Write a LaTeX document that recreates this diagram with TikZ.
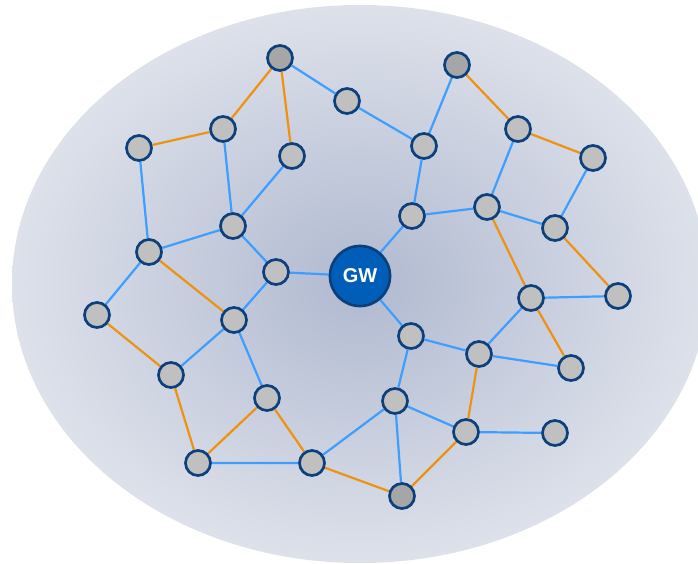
\documentclass[tikz,border=0pt]{standalone}
\usepackage{fontspec}
\setsansfont{Liberation Sans}
\pgfdeclarelayer{bg}
\pgfdeclarelayer{edges}
\pgfsetlayers{bg,edges,main}
\definecolor{nodeborder}{RGB}{12,64,124}
\definecolor{nodefill}{RGB}{192,192,192}
\definecolor{nodedark}{RGB}{166,166,166}
\definecolor{gwfill}{RGB}{0,94,184}
\definecolor{bluelink}{RGB}{61,158,255}
\definecolor{orangelink}{RGB}{238,146,17}
\definecolor{cloudin}{RGB}{176,185,208}
\definecolor{cloudout}{RGB}{221,225,234}
\tikzset{
  mnode/.style={circle,draw=nodeborder,fill=nodefill,line width=2.7pt,minimum size=25pt,inner sep=0pt},
  dnode/.style={mnode,fill=nodedark},
  gwnode/.style={circle,draw=nodeborder,fill=gwfill,line width=2.7pt,minimum size=60pt,inner sep=0pt,text=white,font=\sffamily\bfseries\fontsize{20}{22}\selectfont},
  bl/.style={draw=bluelink,line width=2.2pt},
  ol/.style={draw=orangelink,line width=2.2pt}
}
\begin{document}
\begin{tikzpicture}[x=1pt,y=-1pt]
\useasboundingbox (0,0) rectangle (698,564);
\begin{pgfonlayer}{bg}
\clip (0,0) rectangle (698,564);
\shade[inner color=cloudin,outer color=cloudout] (360,284) ellipse [x radius=348,y radius=279];
\end{pgfonlayer}
\node[dnode] (n1) at (280,58) {};
\node[mnode] (n2) at (347,101) {};
\node[mnode] (n3) at (223,129) {};
\node[mnode] (n4) at (139,148) {};
\node[mnode] (n5) at (292,156) {};
\node[mnode] (n6) at (424,146) {};
\node[dnode] (n7) at (457,65) {};
\node[mnode] (n8) at (518,129) {};
\node[mnode] (n9) at (593,158) {};
\node[mnode] (n10) at (487,207) {};
\node[mnode] (n11) at (412,216) {};
\node[mnode] (n12) at (555,228) {};
\node[mnode] (n13) at (233,226) {};
\node[mnode] (n14) at (149,252) {};
\node[mnode] (n15) at (276,272) {};
\node[gwnode] (gw) at (360,276) {GW};
\node[mnode] (n17) at (97,315) {};
\node[mnode] (n18) at (234,320) {};
\node[mnode] (n19) at (531,298) {};
\node[mnode] (n20) at (618,296) {};
\node[mnode] (n21) at (411,336) {};
\node[mnode] (n22) at (479,354) {};
\node[mnode] (n23) at (571,368) {};
\node[mnode] (n24) at (171,375) {};
\node[mnode] (n25) at (267,398) {};
\node[mnode] (n26) at (395,401) {};
\node[mnode] (n27) at (466,432) {};
\node[mnode] (n28) at (555,433) {};
\node[mnode] (n29) at (198,463) {};
\node[mnode] (n30) at (312,463) {};
\node[dnode] (n31) at (402,496) {};
\begin{pgfonlayer}{edges}
\draw[bl] (n1)--(n2) (n2)--(n6) (n7)--(n6) (n6)--(n11) (n11)--(gw) (n11)--(n10)
  (n10)--(n8) (n10)--(n12) (n12)--(n9) (n3)--(n13) (n5)--(n13) (n4)--(n14)
  (n14)--(n13) (n13)--(n15) (n15)--(gw) (n14)--(n17) (n15)--(n18) (n18)--(n24)
  (n18)--(n25) (gw)--(n21) (n21)--(n22) (n21)--(n26) (n22)--(n19) (n19)--(n20)
  (n22)--(n23) (n26)--(n30) (n26)--(n27) (n26)--(n31) (n27)--(n28) (n29)--(n30);
\draw[ol] (n1)--(n3) (n1)--(n5) (n3)--(n4) (n7)--(n8) (n8)--(n9) (n10)--(n19)
  (n12)--(n20) (n19)--(n23) (n14)--(n18) (n17)--(n24) (n24)--(n29) (n29)--(n25)
  (n25)--(n30) (n30)--(n31) (n31)--(n27) (n27)--(n22);
\end{pgfonlayer}
\end{tikzpicture}
\end{document}
